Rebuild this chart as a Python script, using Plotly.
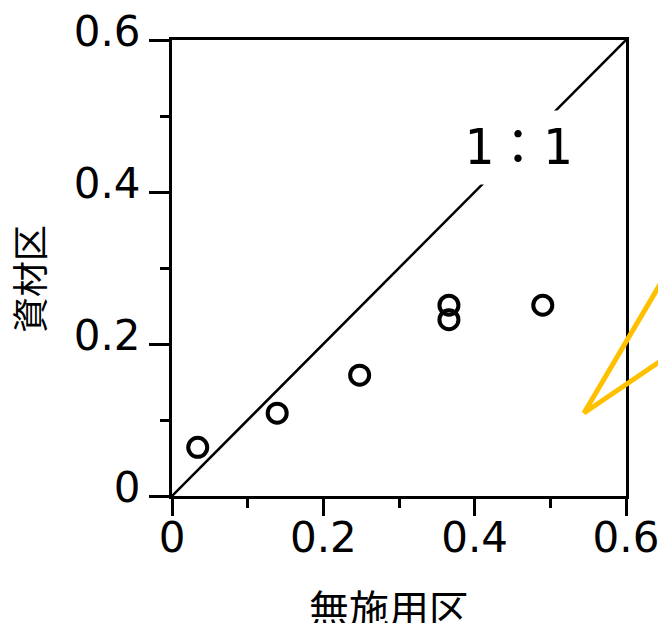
import plotly.graph_objects as go

# Paired plot values: control plot (x) vs. amended plot (y)
control = [0.034, 0.139, 0.248, 0.366, 0.366, 0.490]
amended = [0.064, 0.109, 0.159, 0.251, 0.232, 0.251]

# 1:1 reference line
ref_x = [0, 0.6]
ref_y = [0, 0.6]

tick_vals = [0, 0.2, 0.4, 0.6]
tick_text = ["0", "0.2", "0.4", "0.6"]

x_title = "無施用区"
y_title = "資材区"
ref_label = "1：1"

W, H = 658, 623
L, R, T, B = 172, 32, 40, 127

fig = go.Figure()

fig.add_trace(go.Scatter(
    x=ref_x, y=ref_y, mode="lines",
    line=dict(color="black", width=2.5),
    hoverinfo="skip", showlegend=False,
))

fig.add_trace(go.Scatter(
    x=control, y=amended, mode="markers",
    marker=dict(symbol="circle-open", size=19, color="black",
                line=dict(color="black", width=4)),
    showlegend=False,
))

axis_common = dict(
    range=[0, 0.6],
    tickvals=tick_vals, ticktext=tick_text,
    ticks="outside", tickwidth=3, tickcolor="black",
    showline=True, linecolor="black", linewidth=3, mirror=True,
    showgrid=False, zeroline=False, automargin=False,
    ticklabeloverflow="allow",
    tickfont=dict(family="DejaVu Sans", size=42, color="black"),
    minor=dict(tickvals=[0.1, 0.3, 0.5], ticks="outside", ticklen=9,
               tickwidth=3, tickcolor="black", showgrid=False),
)

fig.update_xaxes(**axis_common, ticklen=17, ticklabelstandoff=-14)
fig.update_yaxes(**axis_common, ticklen=20, ticklabelshift=-9)

# 1:1 label with a white box that interrupts the reference line
fig.add_annotation(
    x=0.457, y=0.4586, xref="x", yref="y",
    text=ref_label, showarrow=False,
    font=dict(family="DejaVu Sans Mono, Noto Sans CJK JP", size=49, color="black"),
    bgcolor="white", borderpad=8,
)


def px(xp):
    return (xp - L) / (W - L - R)


def py(yp):
    return (H - B - yp) / (H - T - B)


# Axis titles
fig.add_annotation(
    x=px(389), y=py(607), xref="paper", yref="paper",
    xanchor="center", yanchor="middle",
    text=x_title, showarrow=False,
    font=dict(family="Noto Sans CJK JP", size=40, color="black"),
)
fig.add_annotation(
    x=px(28), y=py(279), xref="paper", yref="paper",
    xanchor="center", yanchor="middle",
    text=y_title, showarrow=False, textangle=-90,
    font=dict(family="Noto Sans CJK JP", size=36, color="black"),
)

# Orange callout pointer at the right edge
fig.add_shape(
    type="path", xref="paper", yref="paper",
    path=f"M {px(662)} {py(281)} L {px(584)} {py(413)} L {px(662)} {py(360)}",
    line=dict(color="#FFC000", width=5),
)

fig.update_layout(
    width=W, height=H,
    margin=dict(l=L, r=R, t=T, b=B, autoexpand=False),
    paper_bgcolor="white", plot_bgcolor="white",
)

fig.write_html("out.html")
